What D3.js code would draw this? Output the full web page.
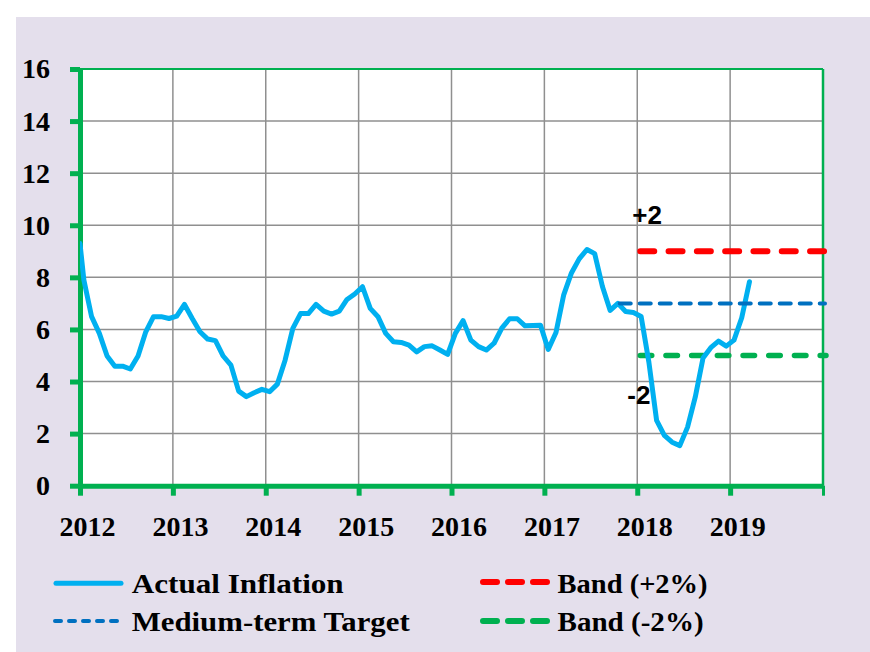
<!DOCTYPE html>
<html>
<head>
<meta charset="utf-8">
<script src="https://cdn.jsdelivr.net/npm/d3@7"></script>
<style>
  html, body { margin: 0; padding: 0; background: #ffffff; }
  svg { display: block; }
</style>
</head>
<body>
<div id="chart"></div>
<script>
// ---------------- data ----------------
const yearTicks = [2012, 2013, 2014, 2015, 2016, 2017, 2018, 2019, 2020];
const yearLabels = ["2012", "2013", "2014", "2015", "2016", "2017", "2018", "2019", ""];
const valueTicks = [0, 2, 4, 6, 8, 10, 12, 14, 16];
const startYear = 2012;
// first value sits on the 2012 axis, then one value per month (mid-month), Jan 2012 .. Mar 2019
const inflation = [
  9.3,
  7.9, 6.49, 5.85, 4.98, 4.59, 4.59, 4.48, 4.98, 5.91, 6.49, 6.49, 6.42,
  6.51, 6.96, 6.42, 5.91, 5.63, 5.57, 4.98, 4.63, 3.63, 3.42, 3.57, 3.70,
  3.61, 3.90, 4.82, 6.04, 6.61, 6.61, 6.96, 6.70, 6.59, 6.70, 7.15, 7.36,
  7.64, 6.81, 6.49, 5.85, 5.53, 5.50, 5.40, 5.14, 5.34, 5.37, 5.21, 5.04,
  5.85, 6.34, 5.59, 5.34, 5.21, 5.47, 6.05, 6.41, 6.41, 6.14, 6.15, 6.16,
  5.23, 5.88, 7.33, 8.17, 8.71, 9.07, 8.91, 7.65, 6.73, 7.00, 6.69, 6.65,
  6.50, 4.75, 2.51, 1.93, 1.67, 1.54, 2.25, 3.41, 4.90, 5.30, 5.55, 5.36,
  5.59, 6.45, 7.83
];
const targetValue = 7;
const targetStart = 2017.79;
const bandUpper = 9;
const bandLower = 5;
const bandStart = 2018;
const bandEnd = 2020;
const seriesNames = ["Actual Inflation", "Medium-term Target", "Band (+2%)", "Band (-2%)"];
const annotations = ["+2", "-2"];

// ---------------- layout ----------------
const W = 870, H = 652;
const plot = { left: 80, right: 823, top: 69, bottom: 485.7 };
const GREEN = "#00b050", SKY = "#00b0f0", BLUE = "#0070c0", RED = "#ff0000", GRID = "#8f8f8f";
const SERIF = "'Liberation Serif', 'Times New Roman', serif";
const SANS = "'Liberation Sans', Arial, sans-serif";

const x = d3.scaleLinear().domain([2012, 2020]).range([plot.left, plot.right]);
const y = d3.scaleLinear().domain([0, 16]).range([plot.bottom, plot.top]);

const svg = d3.select("#chart").append("svg")
  .attr("width", W).attr("height", H);

// background
svg.append("rect").attr("x", 0).attr("y", 0).attr("width", W).attr("height", H).attr("fill", "#ffffff");
svg.append("rect").attr("x", 16).attr("y", 17).attr("width", W - 16).attr("height", H - 17).attr("fill", "#e4dfec");

// plot area
svg.append("rect")
  .attr("x", plot.left).attr("y", plot.top)
  .attr("width", plot.right - plot.left).attr("height", plot.bottom - plot.top)
  .attr("fill", "#ffffff");

// gridlines
svg.append("g").selectAll("line").data(valueTicks.filter(v => v > 0 && v < 16)).join("line")
  .attr("x1", plot.left).attr("x2", plot.right)
  .attr("y1", d => y(d)).attr("y2", d => y(d))
  .attr("stroke", GRID).attr("stroke-width", 1.5);
svg.append("g").selectAll("line").data(yearTicks.filter(v => v > 2012 && v < 2020)).join("line")
  .attr("y1", plot.top).attr("y2", plot.bottom)
  .attr("x1", d => x(d)).attr("x2", d => x(d))
  .attr("stroke", GRID).attr("stroke-width", 1.5);

// top & right border
svg.append("line").attr("x1", plot.left).attr("x2", plot.right).attr("y1", plot.top).attr("y2", plot.top)
  .attr("stroke", GREEN).attr("stroke-width", 2);
svg.append("line").attr("x1", plot.right).attr("x2", plot.right).attr("y1", plot.top).attr("y2", plot.bottom)
  .attr("stroke", GREEN).attr("stroke-width", 2.5);

// axes
const yAxis = d3.axisLeft(y).tickValues(valueTicks).tickSize(10).tickSizeOuter(0).tickPadding(20)
  .tickFormat(d3.format("d"));
const gy = svg.append("g").attr("transform", `translate(${plot.left},0)`).call(yAxis);
gy.select(".domain").attr("stroke", GREEN).attr("stroke-width", 5);
gy.selectAll(".tick line").attr("stroke", GREEN).attr("stroke-width", 5);
gy.selectAll(".tick text")
  .attr("fill", "#000").style("font-family", SERIF).style("font-weight", "bold").style("font-size", "28px");

const xAxis = d3.axisBottom(x).tickValues(yearTicks).tickSize(10).tickSizeOuter(0).tickPadding(20)
  .tickFormat((d, i) => yearLabels[i]);
const gx = svg.append("g").attr("transform", `translate(0,${plot.bottom})`).call(xAxis);
gx.select(".domain").attr("stroke", GREEN).attr("stroke-width", 5);
gx.selectAll(".tick line").attr("stroke", GREEN).attr("stroke-width", 5);
gx.selectAll(".tick line").filter(d => d === 2020).attr("stroke-width", 3);
gx.selectAll(".tick text")
  .attr("fill", "#000").attr("dx", 7)
  .style("font-family", SERIF).style("font-weight", "bold").style("font-size", "28px");

// clip
svg.append("clipPath").attr("id", "plotclip").append("rect")
  .attr("x", plot.left).attr("y", plot.top - 10)
  .attr("width", plot.right - plot.left).attr("height", plot.bottom - plot.top + 10);

// bands and target
const flat = (v, a, b) => [[a, v], [b, v]];
const lineGen = d3.line().x(d => x(d[0])).y(d => y(d[1]));
svg.append("path").attr("d", lineGen(flat(bandUpper, bandStart, bandEnd)))
  .attr("fill", "none").attr("stroke", RED).attr("stroke-width", 6)
  .attr("stroke-linecap", "round").attr("stroke-dasharray", "14,14.3")
  .attr("transform", "translate(3,0)");
svg.append("path").attr("d", lineGen(flat(bandLower, bandStart, bandEnd)))
  .attr("fill", "none").attr("stroke", GREEN).attr("stroke-width", 5.5)
  .attr("stroke-linecap", "round").attr("stroke-dasharray", "11.5,14.2")
  .attr("transform", "translate(3,0)");

// actual inflation
const pts = inflation.map((v, i) => [i === 0 ? startYear : startYear + (i - 0.5) / 12, v]);
svg.append("path").attr("d", lineGen(pts))
  .attr("clip-path", "url(#plotclip)")
  .attr("fill", "none").attr("stroke", SKY).attr("stroke-width", 5)
  .attr("stroke-linejoin", "round").attr("stroke-linecap", "round");

// target (drawn over)
svg.append("path").attr("d", lineGen(flat(targetValue, targetStart, bandEnd)))
  .attr("fill", "none").attr("stroke", BLUE).attr("stroke-width", 4)
  .attr("stroke-linecap", "round").attr("stroke-dasharray", "11,9")
  .attr("transform", "translate(2,0)");

// annotations
svg.append("text").text(annotations[0])
  .attr("x", x(2018) - 5).attr("y", y(bandUpper) - 27)
  .style("font-family", SANS).style("font-weight", "bold").style("font-size", "26px").attr("fill", "#000");
svg.append("text").text(annotations[1])
  .attr("x", x(2018) - 10).attr("y", y(bandLower) + 49)
  .style("font-family", SANS).style("font-weight", "bold").style("font-size", "26px").attr("fill", "#000");

// legend
const legend = [
  { name: seriesNames[0], color: SKY, w: 5, dash: null, sx: 56, sx2: 121, sy: 583.3, tx: 131.7, ty: 593, tl: 212 },
  { name: seriesNames[1], color: BLUE, w: 4, dash: "6,8", sx: 55, sx2: 122, sy: 621, tx: 131.7, ty: 631, tl: 278 },
  { name: seriesNames[2], color: RED, w: 6, dash: "14,11", sx: 483, sx2: 547, sy: 582, tx: 557.6, ty: 593, tl: 150 },
  { name: seriesNames[3], color: GREEN, w: 6, dash: "14,11", sx: 483, sx2: 547, sy: 621, tx: 557.6, ty: 631, tl: 146 }
];
const lg = svg.append("g").selectAll("g").data(legend).join("g");
lg.append("line")
  .attr("x1", d => d.sx).attr("x2", d => d.sx2).attr("y1", d => d.sy).attr("y2", d => d.sy)
  .attr("stroke", d => d.color).attr("stroke-width", d => d.w)
  .attr("stroke-linecap", "round")
  .attr("stroke-dasharray", d => d.dash);
lg.append("text").text(d => d.name)
  .attr("x", d => d.tx).attr("y", d => d.ty)
  .attr("textLength", d => d.tl).attr("lengthAdjust", "spacingAndGlyphs")
  .style("font-family", SERIF).style("font-weight", "bold").style("font-size", "28px").attr("fill", "#000");
</script>
</body>
</html>
